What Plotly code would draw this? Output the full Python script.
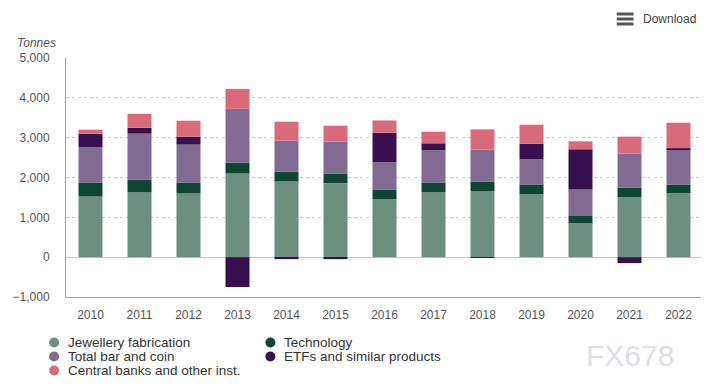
import plotly.graph_objects as go

years = ["2010", "2011", "2012", "2013", "2014", "2015", "2016",
         "2017", "2018", "2019", "2020", "2021", "2022"]
jewellery = [1533, 1625, 1608, 2100, 1900, 1858, 1450, 1625, 1650, 1575, 850, 1500, 1600]
technology = [342, 325, 267, 275, 250, 242, 250, 250, 250, 250, 200, 250, 225]
bar_coin = [883, 1150, 950, 1350, 775, 800, 683, 808, 800, 633, 650, 850, 883]
etfs = [342, 150, 200, -750, -50, -50, 742, 175, -17, 392, 1008, -150, 25]
central_banks = [100, 350, 400, 500, 475, 400, 308, 292, 508, 475, 200, 425, 642]

series_names = ["Jewellery fabrication", "Technology", "Total bar and coin",
                "ETFs and similar products", "Central banks and other inst."]
series_values = [jewellery, technology, bar_coin, etfs, central_banks]
series_colors = ["#6d8f80", "#0e4633", "#826b92", "#38104f", "#d96a7a"]

y_ticks = [-1000, 0, 1000, 2000, 3000, 4000, 5000]

# page has an 8px body margin; lay out in page pixels
OFF = 8
W, H = 701, 383
PL, PT, PR, PB = 62, 58, 704, 297   # plot area in page pixels
L = PL - OFF
T = PT - OFF
R = W - (PR - OFF)
B = H - (PB - OFF)
PW, PH = PR - PL, PB - PT


def px(x):
    return (x - PL) / PW


def py(y):
    return (PB - y) / PH


fig = go.Figure()
for name, vals, col in zip(series_names, series_values, series_colors):
    fig.add_trace(go.Bar(x=years, y=vals, name=name, marker=dict(color=col, line=dict(width=0)),
                         showlegend=False))

font_main = "Liberation Sans, Arial, sans-serif"

fig.update_layout(
    width=W, height=H,
    margin=dict(l=L, r=R, t=T, b=B, pad=0),
    barmode="relative",
    bargap=0.51,
    plot_bgcolor="white", paper_bgcolor="white",
    font=dict(family=font_main, size=12, color="#555"),
    xaxis=dict(
        type="category", range=[-0.5, 12.5],
        showline=True, linecolor="#a0a0a0", linewidth=1,
        showgrid=False, ticks="", ticklabelstandoff=7,
        tickfont=dict(size=12, color="#555"),
        fixedrange=True,
    ),
    yaxis=dict(
        range=[-1000, 5000], tickvals=y_ticks, tickformat=",",
        showline=True, linecolor="#a0a0a0", linewidth=1, mirror=True,
        showgrid=True, gridcolor="#c8c8c8", griddash="dot", gridwidth=1,
        zeroline=True, zerolinecolor="#c8c8c8", zerolinewidth=1,
        ticks="", ticklabelstandoff=13,
        tickfont=dict(size=12, color="#555"),
        fixedrange=True,
    ),
)

annotations = []
shapes = []

# Axis title "Tonnes"
annotations.append(dict(text="<i>Tonnes</i>", x=px(11), y=py(43), xref="paper", yref="paper",
                        xanchor="left", yanchor="middle", showarrow=False,
                        font=dict(size=12, color="#555", family=font_main)))

# Download button
annotations.append(dict(text="Download", x=px(642), y=py(19), xref="paper", yref="paper",
                        xanchor="left", yanchor="middle", showarrow=False,
                        font=dict(size=12, color="#444", family=font_main)))
for yy in (14, 19, 24):
    shapes.append(dict(type="rect", xref="paper", yref="paper",
                       x0=px(617), x1=px(634), y0=py(yy - 1.5), y1=py(yy + 1.5),
                       fillcolor="#555", line=dict(width=0)))

# Custom legend
legend_pos = [(50, 342.5), (268, 342.5), (50, 356.5), (268, 356.5), (50, 370.5)]
for name, col, (mx, my) in zip(series_names, series_colors, legend_pos):
    shapes.append(dict(type="circle", xref="paper", yref="paper",
                       xsizemode="pixel", ysizemode="pixel",
                       xanchor=px(mx), yanchor=py(my),
                       x0=-5, x1=5, y0=-5, y1=5,
                       fillcolor=col, line=dict(width=0)))
    annotations.append(dict(text=name, x=px(mx + 12), y=py(my), xref="paper", yref="paper",
                            xanchor="left", yanchor="middle", showarrow=False,
                            font=dict(size=13.5, color="#333", family=font_main)))

# Watermark
annotations.append(dict(text="FX678", x=px(630), y=py(355), xref="paper", yref="paper",
                        xanchor="center", yanchor="middle", showarrow=False,
                        font=dict(size=30, color="#dbe0e6", family=font_main)))

fig.update_layout(annotations=annotations, shapes=shapes)

fig.write_html("out.html", config={"displayModeBar": False})
